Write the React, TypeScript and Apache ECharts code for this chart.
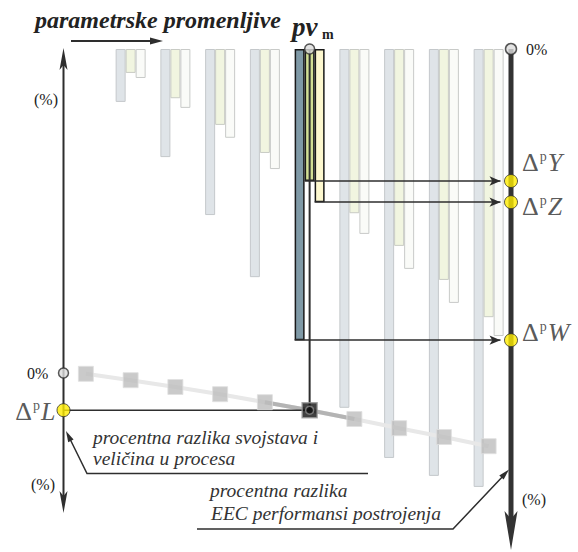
import { useEffect, useRef } from 'react';
import * as echarts from 'echarts';

// ---------- data ----------
const categories = ['pv1', 'pv2', 'pv3', 'pv4', 'pv5', 'pvm', 'pv7', 'pv8', 'pv9', 'pv10'];
// EEC performance differences (%), bars hanging from 0 % (right axis, downward)
const perfW = [null, 11.5, 23.5, 36.1, 49.6, 63.3, 78.0, 88.9, 92.8, 95.2];
const perfY = [null, 5.2, 10.7, 16.5, 22.6, 28.7, 35.7, 42.8, 50.2, 58.3];
const perfZ = [null, 6.3, 12.8, 19.3, 26.1, 33.3, 40.2, 47.8, 55.2, 62.4];
// process property difference (%), left axis (downward positive)
const procL = [0.2, 1.8, 3.5, 5.3, 7.3, 9.3, 11.5, 13.8, 16.0, 18.3];
const M = 5; // index of pv_m
const perfRange = [0, 100];
const procRange = [-81, 34];

// ---------- layout ----------
const GL = 63.5;
const GR = 511;
const GT = 49;
const GH = 460;
const BAND = (GR - GL) / categories.length;
const BW = 10;

const FONT = "'Liberation Serif', 'Times New Roman', Times, 'DejaVu Serif', serif";
const INK = '#2e2e2e';

function arrowHead(tip: number[], from: number[], len: number, hw: number) {
  const dx = tip[0] - from[0];
  const dy = tip[1] - from[1];
  const d = Math.hypot(dx, dy);
  const ux = dx / d, uy = dy / d;
  const bx = tip[0] - ux * len, by = tip[1] - uy * len;
  const px = -uy * hw, py = ux * hw;
  return {
    type: 'polygon',
    shape: { points: [tip, [bx + px, by + py], [bx - px, by - py]] },
    style: { fill: INK },
  };
}

function txt(x: number, y: number, text: string, size: number, opts: any = {}) {
  return {
    type: 'text',
    x,
    y,
    style: {
      text,
      fontFamily: FONT,
      fontSize: size,
      fontStyle: opts.italic ? 'italic' : 'normal',
      fontWeight: opts.bold ? 'bold' : 'normal',
      fill: opts.fill || '#222',
      verticalAlign: 'middle',
    },
  };
}

function deltaLabel(letter: string, pos: string, offsetY: number, dist: number) {
  return {
    show: true,
    position: pos,
    distance: dist,
    offset: [0, offsetY],
    formatter: `{d|Δ}{p|p}{v|${letter}}`,
    rich: {
      d: { fontFamily: FONT, fontSize: 26, color: INK },
      p: { fontFamily: FONT, fontSize: 14, color: INK, verticalAlign: 'top', padding: [0, 1, 0, 1] },
      v: { fontFamily: FONT, fontSize: 26, fontStyle: 'italic', color: INK },
    },
  };
}

export default function App() {
  const ref = useRef<HTMLDivElement>(null);

  useEffect(() => {
    document.body.style.margin = '0';
    if (!ref.current) return;
    const chart = echarts.init(ref.current, undefined, { renderer: 'svg' });

    const mx = M + 0.5; // centre of pv_m on the value x-axis
    const arrowEnd = 10 - 10.5 / BAND;
    const barItem = (vals: (number | null)[], hi: string) =>
      vals.map((v, i) =>
        i === M
          ? { value: v, itemStyle: { color: hi, borderColor: '#1a1a1a', borderWidth: 1.5 } }
          : v
      );

    const option: any = {
      animation: false,
      textStyle: { fontFamily: FONT },
      grid: { left: GL, right: 578 - GR, top: GT, height: GH, containLabel: false },
      xAxis: [
        { type: 'category', data: categories, show: false, boundaryGap: true },
        { type: 'value', min: 0, max: 10, show: false },
      ],
      yAxis: [
        { type: 'value', min: perfRange[0], max: perfRange[1], inverse: true, show: false },
        { type: 'value', min: procRange[0], max: procRange[1], inverse: true, show: false },
      ],
      series: [
        {
          name: 'W', type: 'bar', xAxisIndex: 0, yAxisIndex: 0, barWidth: BW, barGap: '0%',
          data: barItem(perfW, '#7f99a6'),
          itemStyle: { color: '#dfe4e8', borderColor: '#c4c8cb', borderWidth: 1 },
          z: 2,
        },
        {
          name: 'Y', type: 'bar', xAxisIndex: 0, yAxisIndex: 0, barWidth: BW, barGap: '0%',
          data: barItem(perfY, '#d2df94'),
          itemStyle: { color: '#f1f5e0', borderColor: '#c8cbc4', borderWidth: 1 },
          z: 2,
        },
        {
          name: 'Z', type: 'bar', xAxisIndex: 0, yAxisIndex: 0, barWidth: BW, barGap: '0%',
          data: barItem(perfZ, '#fdf8cf'),
          itemStyle: { color: '#fafbf8', borderColor: '#c8cac8', borderWidth: 1 },
          z: 2,
        },
        {
          name: 'L', type: 'line', xAxisIndex: 0, yAxisIndex: 1, data: procL,
          showSymbol: false, lineStyle: { color: '#e8e8e8', width: 4 }, z: 3, silent: true,
        },
        {
          name: 'Lm', type: 'line', xAxisIndex: 0, yAxisIndex: 1,
          data: procL.map((v, i) => (Math.abs(i - M) <= 1 ? v : null)),
          showSymbol: false, lineStyle: { color: '#b4b4b4', width: 4 }, z: 3, silent: true,
        },
        {
          name: 'pv', type: 'line', xAxisIndex: 1, yAxisIndex: 1,
          data: [[mx, procRange[0]], [mx, procL[M]]],
          showSymbol: false, lineStyle: { color: INK, width: 2 }, z: 4, silent: true,
        },
        {
          name: 'dL', type: 'line', xAxisIndex: 1, yAxisIndex: 1,
          data: [[0, procL[M]], [mx, procL[M]]],
          showSymbol: false, lineStyle: { color: INK, width: 1.5 }, z: 4, silent: true,
        },
        {
          name: 'Lpts', type: 'scatter', xAxisIndex: 0, yAxisIndex: 1, symbol: 'rect', symbolSize: 15,
          data: procL.map((v, i) =>
            i === M ? { value: v, itemStyle: { color: '#111', borderColor: '#999', borderWidth: 1.5 } } : v
          ),
          itemStyle: { color: '#bdbdbd', borderColor: '#e0e0e0', borderWidth: 1 },
          z: 5, silent: true,
        },
        {
          name: 'Lm-ring', type: 'scatter', xAxisIndex: 1, yAxisIndex: 1, symbol: 'circle', symbolSize: 8,
          data: [[mx, procL[M]]],
          itemStyle: { color: '#111', borderColor: '#8a8a8a', borderWidth: 1.5 }, z: 6, silent: true,
        },
        {
          name: 'zeroL', type: 'scatter', xAxisIndex: 1, yAxisIndex: 1, symbolSize: 10, clip: false,
          data: [[0, 0], [mx, procRange[0]]],
          itemStyle: { color: '#dcdcdc', borderColor: INK, borderWidth: 1.5 }, z: 6, silent: true,
        },
        {
          name: 'zeroR', type: 'scatter', xAxisIndex: 1, yAxisIndex: 0, symbolSize: 11, clip: false,
          data: [[10, 0]],
          itemStyle: { color: '#dcdcdc', borderColor: INK, borderWidth: 1.5 }, z: 6, silent: true,
        },
        {
          name: 'dPerf', type: 'scatter', xAxisIndex: 1, yAxisIndex: 0, symbolSize: 13, clip: false,
          itemStyle: { color: '#ffec00', borderColor: INK, borderWidth: 1 },
          z: 6, silent: true,
          data: [
            { value: [10, perfY[M]], label: deltaLabel('Y', 'right', -19, 4) },
            { value: [10, perfZ[M]], label: deltaLabel('Z', 'right', 4, 4) },
            { value: [10, perfW[M]], label: deltaLabel('W', 'right', -8, 4) },
          ],
          markLine: {
            silent: true,
            symbol: ['none', 'arrow'],
            symbolSize: [7, 11],
            label: { show: false },
            lineStyle: { color: INK, width: 1.5, type: 'solid' },
            data: [
              [{ coord: [mx - BW / 2 / BAND, perfY[M]] }, { coord: [arrowEnd, perfY[M]] }],
              [{ coord: [mx + BW / 2 / BAND, perfZ[M]] }, { coord: [arrowEnd, perfZ[M]] }],
              [{ coord: [mx - (1.5 * BW) / BAND, perfW[M]] }, { coord: [arrowEnd, perfW[M]] }],
            ],
          },
        },
        {
          name: 'dProc', type: 'scatter', xAxisIndex: 1, yAxisIndex: 1, symbolSize: 13, clip: false,
          itemStyle: { color: '#ffec00', borderColor: INK, borderWidth: 1 }, z: 6, silent: true,
          data: [{ value: [0, procL[M]], label: deltaLabel('L', 'left', 1, 1) }],
        },
      ],
      graphic: [
        // right (EEC performance) axis
        { type: 'line', shape: { x1: GR, y1: GT, x2: GR, y2: 525 }, style: { stroke: '#333', lineWidth: 5 }, z: 1 },
        { type: 'polygon', shape: { points: [[504.5, 511], [GR, 519], [517.5, 511], [GR, 550]] }, style: { fill: '#333' }, z: 1 },
        // left (process) axis
        { type: 'line', shape: { x1: GL, y1: 62, x2: GL, y2: 500 }, style: { stroke: INK, lineWidth: 2 }, z: 1 },
        { type: 'polygon', shape: { points: [[59.5, 70], [GL, 48], [67.5, 70], [GL, 65]] }, style: { fill: INK }, z: 1 },
        { type: 'polygon', shape: { points: [[59.5, 491], [GL, 513], [67.5, 491], [GL, 496]] }, style: { fill: INK }, z: 1 },
        // titles
        txt(35, 20, 'parametrske promenljive', 24, { italic: true, bold: true }),
        { type: 'line', shape: { x1: 71, y1: 41, x2: 155, y2: 41 }, style: { stroke: INK, lineWidth: 1.8 } },
        { type: 'polygon', shape: { points: [[150, 37.5], [163, 41], [150, 44.5]] }, style: { fill: INK } },
        txt(292, 27, 'pv', 27, { italic: true, bold: true }),
        txt(322, 34.5, 'm', 14, { bold: true }),
        // percent labels
        txt(526, 49.5, '0%', 16),
        txt(34, 99, '(%)', 16),
        txt(27, 373.5, '0%', 16),
        txt(31, 484, '(%)', 16),
        txt(522, 499, '(%)', 16),
        // annotation: process properties
        txt(93, 437.5, 'procentna razlika svojstava i', 19.5, { italic: true, fill: '#333' }),
        txt(93, 458, 'veličina u procesa', 19.5, { italic: true, fill: '#333' }),
        { type: 'polyline', shape: { points: [[69, 437], [87, 473.5], [368, 473.5]] }, style: { stroke: INK, lineWidth: 1.5, fill: 'none' } },
        arrowHead([66, 431], [87, 473.5], 11, 3),
        // annotation: EEC performance
        txt(210, 490.5, 'procentna razlika', 19.5, { italic: true, fill: '#333' }),
        txt(211, 513.5, 'EEC performansi postrojenja', 19.5, { italic: true, fill: '#333' }),
        { type: 'polyline', shape: { points: [[197, 529], [453, 529], [505, 474]] }, style: { stroke: INK, lineWidth: 1.5, fill: 'none' } },
        arrowHead([509, 469.5], [453, 529], 11, 3),
      ],
    };

    chart.setOption(option);
    return () => chart.dispose();
  }, []);

  return <div ref={ref} style={{ width: 578, height: 552 }} />;
}
